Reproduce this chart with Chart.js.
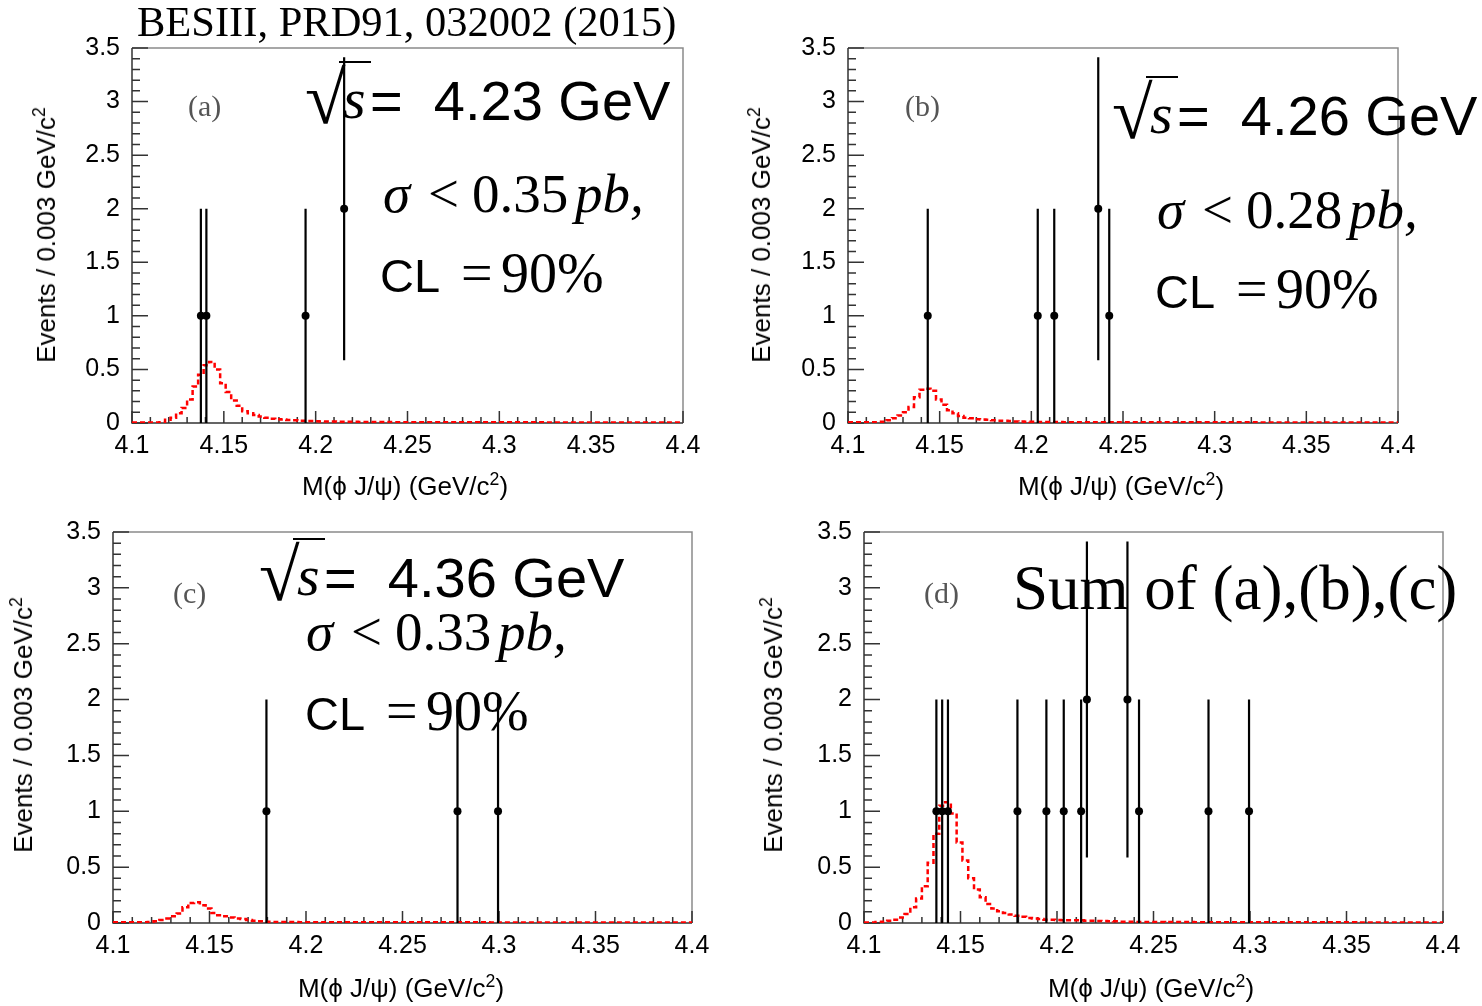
<!DOCTYPE html>
<html>
<head>
<meta charset="utf-8">
<script src="https://cdn.jsdelivr.net/npm/chart.js@4"></script>
<style>
html,body{margin:0;padding:0;background:#fff;}
#wrap{position:relative;width:1482px;height:1006px;overflow:hidden;background:#fff;}
canvas{position:absolute;}
.t{position:absolute;white-space:pre;line-height:1;color:#000;z-index:5;}
.bar{position:absolute;background:#000;z-index:5;}
.ytitle{position:absolute;white-space:nowrap;font-family:"Liberation Sans",Arial,sans-serif;font-size:26px;line-height:1;transform:translate(-50%,-50%) rotate(-90deg);z-index:5;}
.xtitle{position:absolute;white-space:nowrap;font-family:"Liberation Sans",Arial,sans-serif;font-size:26px;line-height:1;transform:translate(-50%,-50%);z-index:5;}
.sup{font-size:0.68em;position:relative;top:-0.55em;}
</style>
</head>
<body>
<div id="wrap">
<canvas id="ca" width="741" height="503" style="left:0px;top:0px"></canvas>
<canvas id="cb" width="741" height="503" style="left:741px;top:0px"></canvas>
<canvas id="cc" width="741" height="503" style="left:0px;top:503px"></canvas>
<canvas id="cd" width="741" height="503" style="left:741px;top:503px"></canvas>
</div>
<script>
// ---------------- DATA ----------------
const xTickValues = [4.1, 4.15, 4.2, 4.25, 4.3, 4.35, 4.4];
const xTickLabels = ['4.1', '4.15', '4.2', '4.25', '4.3', '4.35', '4.4'];
const yTickValues = [0, 0.5, 1, 1.5, 2, 2.5, 3, 3.5];
const yTickLabels = ['0', '0.5', '1', '1.5', '2', '2.5', '3', '3.5'];

const binLow = 4.1;
const binWidth = 0.003;

// (a) sqrt(s) = 4.23 GeV
const massA  = [4.1375, 4.1405, 4.1945, 4.2155];
const countA = [1, 1, 1, 2];
const errA   = [1, 1, 1, 1.414];
const sigA = [
 0.005,0.005,0.005,0.005,0.005,0.008,0.03,0.05,0.09,0.14,
 0.22,0.34,0.45,0.54,0.57,0.50,0.37,0.29,0.21,0.16,
 0.11,0.09,0.075,0.06,0.05,0.04,0.035,0.032,0.028,0.025,
 0.022,0.02,0.018,0.016,0.015,0.014,0.013,0.012,0.012,0.011,
 0.011,0.010,0.010,0.010,0.009,0.009,0.009,0.008,0.008,0.008,
 0.008,0.008,0.007,0.007,0.007,0.007,0.007,0.007,0.007,0.006,
 0.006,0.006,0.006,0.006,0.006,0.006,0.006,0.006,0.006,0.006,
 0.006,0.006,0.006,0.006,0.006,0.005,0.005,0.005,0.005,0.005,
 0.005,0.005,0.005,0.005,0.005,0.005,0.005,0.005,0.005,0.005,
 0.005,0.005,0.005,0.005,0.005,0.005,0.005,0.005,0.005,0.005];

// (b) sqrt(s) = 4.26 GeV
const massB  = [4.1435, 4.2035, 4.2125, 4.2365, 4.2425];
const countB = [1, 1, 1, 2, 1];
const errB   = [1, 1, 1, 1.414, 1];
const sigB = [
 0.006,0.006,0.006,0.006,0.006,0.007,0.012,0.025,0.045,0.07,
 0.10,0.15,0.24,0.31,0.32,0.30,0.22,0.17,0.12,0.09,
 0.065,0.05,0.045,0.035,0.032,0.03,0.025,0.022,0.02,0.018,
 0.015,0.013,0.012,0.011,0.010,0.010,0.009,0.009,0.009,0.008,
 0.008,0.008,0.008,0.008,0.008,0.007,0.007,0.007,0.007,0.007,
 0.007,0.007,0.007,0.007,0.007,0.006,0.006,0.006,0.006,0.006,
 0.006,0.006,0.006,0.006,0.006,0.006,0.006,0.006,0.006,0.006,
 0.006,0.006,0.006,0.006,0.006,0.005,0.005,0.005,0.005,0.005,
 0.005,0.005,0.005,0.005,0.005,0.005,0.005,0.005,0.005,0.005,
 0.005,0.005,0.005,0.005,0.005,0.005,0.005,0.005,0.005,0.005];

// (c) sqrt(s) = 4.36 GeV
const massC  = [4.1795, 4.2785, 4.2995];
const countC = [1, 1, 1];
const errC   = [1, 1, 1];
const sigC = [
 0.006,0.006,0.006,0.006,0.006,0.006,0.01,0.015,0.027,0.04,
 0.06,0.085,0.14,0.18,0.185,0.16,0.13,0.09,0.07,0.06,
 0.05,0.04,0.035,0.027,0.02,0.015,0.012,0.010,0.009,0.008,
 0.008,0.008,0.007,0.007,0.007,0.007,0.006,0.006,0.006,0.006,
 0.006,0.006,0.006,0.006,0.006,0.006,0.006,0.006,0.006,0.006,
 0.006,0.006,0.006,0.006,0.006,0.006,0.006,0.006,0.006,0.006,
 0.006,0.006,0.006,0.006,0.006,0.005,0.005,0.005,0.005,0.005,
 0.005,0.005,0.005,0.005,0.005,0.005,0.005,0.005,0.005,0.005,
 0.005,0.005,0.005,0.005,0.005,0.005,0.005,0.005,0.005,0.005,
 0.005,0.005,0.005,0.005,0.005,0.005,0.005,0.005,0.005,0.005];

// (d) sum of (a),(b),(c)
const massD  = [4.1375, 4.1405, 4.1435, 4.1795, 4.1945, 4.2035, 4.2125, 4.2155, 4.2365, 4.2425, 4.2785, 4.2995];
const countD = [1, 1, 1, 1, 1, 1, 1, 2, 2, 1, 1, 1];
const errD   = [1, 1, 1, 1, 1, 1, 1, 1.414, 1.414, 1, 1, 1];
const sigD = [
 0.005,0.005,0.008,0.012,0.02,0.03,0.05,0.08,0.14,0.22,
 0.33,0.54,0.80,1.05,1.08,0.98,0.72,0.56,0.40,0.30,
 0.23,0.17,0.13,0.105,0.09,0.075,0.065,0.055,0.045,0.04,
 0.035,0.03,0.03,0.027,0.025,0.025,0.025,0.025,0.02,0.02,
 0.018,0.017,0.016,0.015,0.012,0.012,0.011,0.01,0.01,0.009,
 0.009,0.009,0.008,0.008,0.008,0.008,0.008,0.007,0.007,0.007,
 0.007,0.007,0.007,0.007,0.007,0.007,0.007,0.007,0.007,0.007,
 0.006,0.006,0.006,0.006,0.006,0.006,0.006,0.006,0.006,0.006,
 0.006,0.006,0.006,0.006,0.006,0.005,0.005,0.005,0.005,0.005,
 0.005,0.005,0.005,0.005,0.005,0.005,0.005,0.005,0.005,0.005];

// ---------------- DRAWING ----------------
const framePlugin = {
  id: 'frame',
  beforeDatasetsDraw(chart) {
    const {ctx, chartArea: a, scales: {x, y}} = chart;
    ctx.save();
    ctx.lineWidth = 1.5;
    ctx.strokeStyle = '#8a8a8a';
    ctx.beginPath();
    ctx.moveTo(a.left, a.top); ctx.lineTo(a.right, a.top); ctx.lineTo(a.right, a.bottom);
    ctx.stroke();
    ctx.strokeStyle = '#333';
    ctx.beginPath();
    ctx.moveTo(a.left, a.top); ctx.lineTo(a.left, a.bottom); ctx.lineTo(a.right, a.bottom);
    ctx.stroke();
    ctx.beginPath();
    for (let i = 0; i <= 35; i++) {
      const py = y.getPixelForValue(i / 10);
      const len = (i % 5 === 0) ? 16 : 8;
      ctx.moveTo(a.left, py); ctx.lineTo(a.left + len, py);
    }
    for (let i = 0; i <= 30; i++) {
      const px = x.getPixelForValue(4.1 + i * 0.01);
      const len = (i % 5 === 0) ? 12 : 6;
      ctx.moveTo(px, a.bottom); ctx.lineTo(px, a.bottom - len);
    }
    ctx.stroke();
    ctx.restore();
  },
  beforeDatasetDraw(chart, args, opts) {
    if (args.index !== 0) return;
    const {ctx, scales: {x, y}} = chart;
    const pts = chart.data.datasets[0].data;
    ctx.save();
    ctx.strokeStyle = '#000';
    ctx.lineWidth = 2.2;
    ctx.beginPath();
    pts.forEach((p, i) => {
      const px = x.getPixelForValue(p.x);
      ctx.moveTo(px, y.getPixelForValue(p.y - opts.err[i]));
      ctx.lineTo(px, y.getPixelForValue(p.y + opts.err[i]));
    });
    ctx.stroke();
    ctx.restore();
  }
};

function makeChart(id, mass, count, err, sig, L) {
  const histData = sig.map((v, i) => ({x: binLow + i * binWidth, y: v}));
  histData.push({x: binLow + sig.length * binWidth, y: sig[sig.length - 1]});
  const pts = mass.map((m, i) => ({x: m, y: count[i]}));
  return new Chart(document.getElementById(id), {
    type: 'scatter',
    data: {
      datasets: [
        {type: 'scatter', data: pts, pointRadius: 4, pointHoverRadius: 4,
         pointBackgroundColor: '#000', pointBorderWidth: 0, clip: false},
        {type: 'line', data: histData, stepped: 'before', borderColor: '#ff0000',
         borderWidth: 2.5, borderDash: [5, 3], pointRadius: 0, fill: false}
      ]
    },
    options: {
      responsive: false, animation: false, devicePixelRatio: 1, events: [],
      layout: {padding: {top: L.top, right: L.right, left: 0, bottom: 0}},
      plugins: {legend: {display: false}, tooltip: {enabled: false}, frame: {err: err}},
      scales: {
        x: {
          type: 'linear', min: 4.1, max: 4.4,
          afterBuildTicks: s => { s.ticks = xTickValues.map(v => ({value: v})); },
          afterFit: s => { s.height = L.xh; },
          ticks: {callback: (v, i) => xTickLabels[i], color: '#000', padding: 0,
                  maxRotation: 0, autoSkip: false,
                  font: {family: 'Liberation Sans', size: 25}},
          grid: {display: false}, border: {display: false}
        },
        y: {
          type: 'linear', min: 0, max: 3.5,
          afterBuildTicks: s => { s.ticks = yTickValues.map(v => ({value: v})); },
          afterFit: s => { s.width = L.left; },
          ticks: {callback: (v, i) => yTickLabels[i], color: '#000', padding: 4,
                  autoSkip: false, font: {family: 'Liberation Sans', size: 25}},
          grid: {display: false}, border: {display: false}
        }
      }
    },
    plugins: [framePlugin]
  });
}

makeChart('ca', massA, countA, errA, sigA, {left: 132, top: 48, right: 58, xh: 80});
makeChart('cb', massB, countB, errB, sigB, {left: 107, top: 48, right: 84, xh: 80});
makeChart('cc', massC, countC, errC, sigC, {left: 113, top: 29, right: 49, xh: 83});
makeChart('cd', massD, countD, errD, sigD, {left: 123, top: 29, right: 39, xh: 83});

// ---------------- TEXT ----------------
const wrap = document.getElementById('wrap');
const SERIF = '"Liberation Serif","Times New Roman",serif';
const SANS = '"Liberation Sans",Arial,sans-serif';
function addText(str, x, base, size, fam, opt) {
  opt = opt || {};
  const d = document.createElement('div');
  d.className = 't';
  d.textContent = str;
  const k = fam === 'serif' ? 0.8375 : 0.8465;
  d.style.left = x + 'px';
  d.style.top = (base - k * size) + 'px';
  d.style.fontSize = size + 'px';
  d.style.fontFamily = fam === 'serif' ? SERIF : SANS;
  if (opt.italic) d.style.fontStyle = 'italic';
  if (opt.color) d.style.color = opt.color;
  wrap.appendChild(d);
}
function addBar(x, y, w, h) {
  const d = document.createElement('div');
  d.className = 'bar';
  d.style.left = x + 'px'; d.style.top = y + 'px';
  d.style.width = w + 'px'; d.style.height = h + 'px';
  wrap.appendChild(d);
}
function sqrtLabel(dx, dy, energy) {
  addText('\u221A', 305 + dx, 123 + dy, 74, 'serif');
  addBar(339 + dx, 61 + dy, 32, 2);
  addText('s', 343 + dx, 119 + dy, 58, 'serif', {italic: true});
  addText('=  ' + energy + ' GeV', 370 + dx, 120 + dy, 56, 'sans');
}
function sigmaLabel(dx, dy, val) {
  addText('\u03C3', 383 + dx, 212 + dy, 55, 'serif', {italic: true});
  addText('<', 428 + dx, 212 + dy, 55, 'serif');
  addText(val, 472 + dx, 212 + dy, 55, 'serif');
  addText('pb,', 575 + dx, 212 + dy, 55, 'serif', {italic: true});
}
function clLabel(dx, dy) {
  addText('CL', 380 + dx, 292 + dy, 47, 'sans');
  addText('=', 461 + dx, 292 + dy, 56, 'serif');
  addText('90%', 501 + dx, 292 + dy, 56, 'serif');
}

addText('BESIII, PRD91, 032002 (2015)', 137, 37, 42.5, 'serif');

addText('(a)', 188, 116, 30, 'serif', {color: '#555'});
sqrtLabel(0, 0, '4.23');
sigmaLabel(0, 0, '0.35');
clLabel(0, 0);

addText('(b)', 905, 116, 30, 'serif', {color: '#555'});
sqrtLabel(807, 15, '4.26');
sigmaLabel(774, 16, '0.28');
clLabel(775, 16);

addText('(c)', 173, 603, 30, 'serif', {color: '#555'});
sqrtLabel(-46, 477, '4.36');
sigmaLabel(-77, 438, '0.33');
clLabel(-75, 438);

addText('(d)', 924, 603, 30, 'serif', {color: '#555'});
addText('Sum of (a),(b),(c)', 1013, 610, 63, 'serif');

const yTitleHTML = 'Events / 0.003 GeV/c<span class="sup">2</span>';
const xTitleHTML = 'M(\u03D5 J/\u03C8) (GeV/c<span class="sup">2</span>)';
[[46, 235], [761, 235], [23, 725], [773, 725]].forEach(p => {
  const d = document.createElement('div');
  d.className = 'ytitle';
  d.innerHTML = yTitleHTML;
  d.style.left = p[0] + 'px'; d.style.top = p[1] + 'px';
  wrap.appendChild(d);
});
[[405, 486], [1121, 486], [401, 988], [1151, 988]].forEach(p => {
  const d = document.createElement('div');
  d.className = 'xtitle';
  d.innerHTML = xTitleHTML;
  d.style.left = p[0] + 'px'; d.style.top = p[1] + 'px';
  wrap.appendChild(d);
});
</script>
</body>
</html>
